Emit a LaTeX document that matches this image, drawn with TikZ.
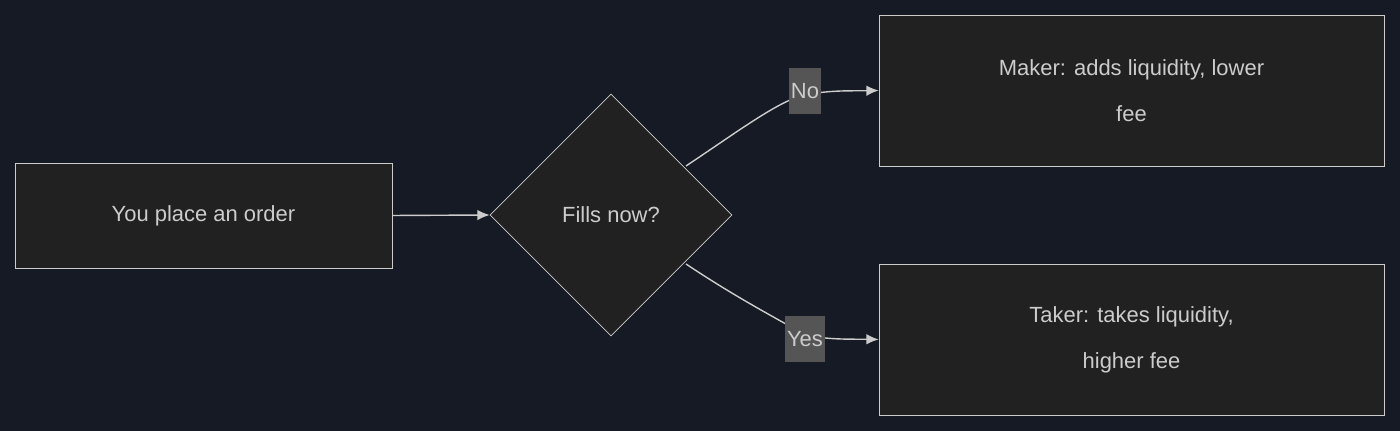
\documentclass[tikz,border=0pt]{standalone}
\usepackage{fontspec}
\setmainfont{Liberation Sans}
\usetikzlibrary{shapes.geometric,arrows.meta}
\definecolor{bgcol}{HTML}{151A24}
\definecolor{boxcol}{HTML}{212121}
\definecolor{linecol}{HTML}{CCCCCC}
\definecolor{lblcol}{HTML}{555555}

\begin{document}
\begin{tikzpicture}[x=0.02cm, y=-0.02cm,
  box/.style={draw=linecol, fill=boxcol, text=linecol, font=\fontsize{12.5}{26}\selectfont, align=center, inner sep=0},
  edge/.style={draw=linecol, thick, -{Latex[length=7pt,width=6pt]}},
  lbl/.style={fill=lblcol, text=linecol, font=\fontsize{12.5}{15}\selectfont, inner sep=1pt, minimum height=0.92cm}]
% Background
\fill[bgcol] (0,0) rectangle (1400,431);
\useasboundingbox (0,0) rectangle (1400,431);

% Nodes
\node[box, minimum width=7.54cm, minimum height=2.1cm] (order) at (203.5,215.5) {You place an order};
\node[box, diamond, aspect=1, minimum size=4.84cm] (fills) at (611,215) {Fills now?};
\node[box, minimum width=10.1cm, minimum height=3.02cm] (maker) at (1131.5,90.5) {Maker: adds liquidity, lower\\fee};
\node[box, minimum width=10.1cm, minimum height=3.02cm] (taker) at (1131.5,339.5) {Taker: takes liquidity,\\higher fee};

% Connectors
\coordinate (up) at (686,166);
\coordinate (down) at (686,264);
\draw[edge] (order.east) -- (fills.west);
\draw[edge] (up) .. controls (740,130) and (780,100) .. (805,95) .. controls (830,90) and (850,91) .. (maker.west);
\draw[edge] (down) .. controls (740,300) and (780,320) .. (805,335) .. controls (830,340) and (850,339) .. (taker.west);
\node[lbl] (no) at (805,91) {No};
\node[lbl] (yes) at (805,339) {Yes};
\end{tikzpicture}
\end{document}
